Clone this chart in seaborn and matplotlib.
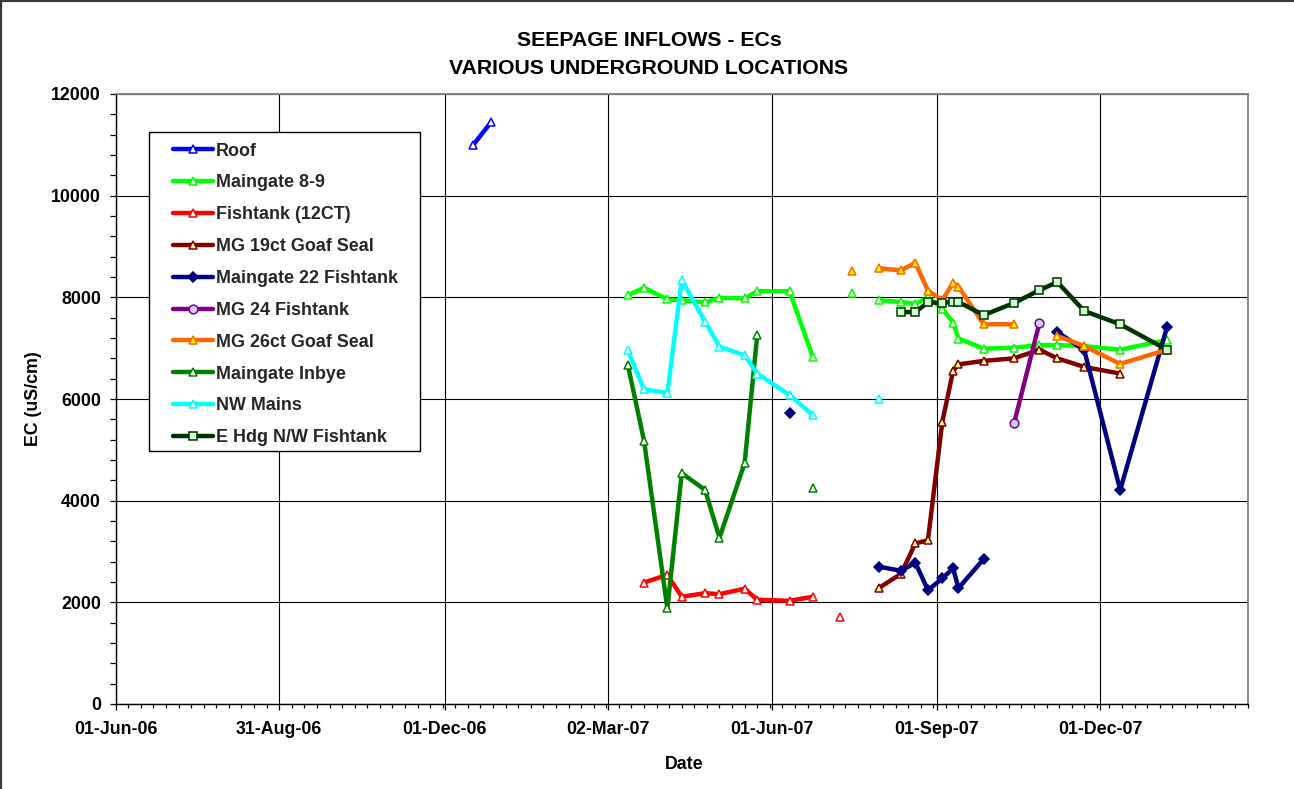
import numpy as np
import pandas as pd
import matplotlib
matplotlib.use("Agg")
import matplotlib.pyplot as plt
import matplotlib.dates as mdates
from matplotlib.lines import Line2D
from matplotlib.patches import Rectangle
import seaborn as sns

# EC readings (uS/cm) per location; a None entry ends one connected run of readings
ROOF_DATES = ["2006-12-17", "2006-12-27"]
ROOF_EC = [11000, 11450]

MG89_DATES = ["2007-03-13", "2007-03-22", "2007-04-04", "2007-04-12", "2007-04-25",
              "2007-05-03", "2007-05-17", "2007-05-24", "2007-06-11", "2007-06-24",
              None, "2007-07-16", None,
              "2007-07-31", "2007-08-12", "2007-08-20", "2007-08-27", "2007-09-04",
              "2007-09-10", "2007-09-13", "2007-09-27", "2007-10-14", "2007-10-28",
              "2007-11-07", "2007-11-22", "2007-12-12", "2008-01-07"]
MG89_EC = [8040, 8190, 7960, 7940, 7900, 7990, 7980, 8120, 8120, 6820,
           None, 8090, None,
           7940, 7910, 7870, 8000, 7780, 7500, 7190, 6990, 7010, 7060,
           7060, 7040, 6970, 7160]

FT12_DATES = ["2007-03-22", "2007-04-04", "2007-04-12", "2007-04-25", "2007-05-03",
              "2007-05-17", "2007-05-24", "2007-06-11", "2007-06-24", None, "2007-07-09"]
FT12_EC = [2390, 2540, 2110, 2180, 2160, 2270, 2050, 2030, 2110, None, 1720]

MG19_DATES = ["2007-07-31", "2007-08-12", "2007-08-20", "2007-08-27", "2007-09-04",
              "2007-09-10", "2007-09-13", "2007-09-27", "2007-10-14", "2007-10-28",
              "2007-11-07", "2007-11-22", "2007-12-12"]
MG19_EC = [2290, 2560, 3160, 3220, 5550, 6550, 6680, 6750, 6800, 6970, 6800, 6630, 6500]

MG22_DATES = ["2007-06-11", None,
              "2007-07-31", "2007-08-12", "2007-08-20", "2007-08-27", "2007-09-04",
              "2007-09-10", "2007-09-13", "2007-09-27", None,
              "2007-11-07", "2007-11-22", "2007-12-12", "2008-01-07"]
MG22_EC = [5720, None, 2700, 2620, 2780, 2240, 2470, 2670, 2280, 2850, None,
           7320, 6960, 4210, 7410]

MG24_DATES = ["2007-10-14", "2007-10-28"]
MG24_EC = [5530, 7490]

MG26_DATES = ["2007-07-16", None,
              "2007-07-31", "2007-08-12", "2007-08-20", "2007-08-27", "2007-09-04",
              "2007-09-10", "2007-09-13", "2007-09-27", "2007-10-14", None,
              "2007-11-07", "2007-11-22", "2007-12-12", "2008-01-07"]
MG26_EC = [8520, None, 8570, 8530, 8680, 8130, 7950, 8280, 8210, 7470, 7470, None,
           7240, 7040, 6690, 6970]

INBYE_DATES = ["2007-03-13", "2007-03-22", "2007-04-04", "2007-04-12", "2007-04-25",
               "2007-05-03", "2007-05-17", "2007-05-24", None, "2007-06-24"]
INBYE_EC = [6670, 5180, 1880, 4540, 4210, 3270, 4740, 7260, None, 4240]

NWM_DATES = ["2007-03-13", "2007-03-22", "2007-04-04", "2007-04-12", "2007-04-25",
             "2007-05-03", "2007-05-17", "2007-05-24", "2007-06-11", "2007-06-24",
             None, "2007-07-31"]
NWM_EC = [6960, 6190, 6120, 8340, 7520, 7030, 6860, 6500, 6080, 5680, None, 6000]

EHDG_DATES = ["2007-08-12", "2007-08-20", "2007-08-27", "2007-09-04", "2007-09-10",
              "2007-09-13", "2007-09-27", "2007-10-14", "2007-10-28", "2007-11-07",
              "2007-11-22", "2007-12-12", "2008-01-07"]
EHDG_EC = [7710, 7710, 7900, 7890, 7910, 7910, 7650, 7890, 8140, 8300, 7730, 7470, 6970]

LABELS = ["Roof", "Maingate 8-9", "Fishtank (12CT)", "MG 19ct Goaf Seal",
          "Maingate 22 Fishtank", "MG 24 Fishtank", "MG 26ct Goaf Seal",
          "Maingate Inbye", "NW Mains", "E Hdg N/W Fishtank"]
SERIES = [(ROOF_DATES, ROOF_EC), (MG89_DATES, MG89_EC), (FT12_DATES, FT12_EC),
          (MG19_DATES, MG19_EC), (MG22_DATES, MG22_EC), (MG24_DATES, MG24_EC),
          (MG26_DATES, MG26_EC), (INBYE_DATES, INBYE_EC), (NWM_DATES, NWM_EC),
          (EHDG_DATES, EHDG_EC)]

TICK_DATES = ["2006-06-01", "2006-08-31", "2006-12-01", "2007-03-02",
              "2007-06-01", "2007-09-01", "2007-12-01"]
X_START, X_END = "2006-06-01", "2008-02-21"

# line colour, marker, marker face, marker size
STYLES = [
    ("#0000FF", "^", "white", 6.0),
    ("#00FF00", "^", "white", 6.0),
    ("#FF0000", "^", "white", 6.0),
    ("#800000", "^", "#FFFF99", 6.0),
    ("#000080", "D", "#000080", 5.3),
    ("#800080", "o", "#CCCCFF", 6.3),
    ("#FF6600", "^", "#FFFF00", 6.0),
    ("#008000", "^", "white", 6.0),
    ("#00FFFF", "^", "white", 6.0),
    ("#003300", "s", "#CCFFCC", 6.0),
]
LW = 3.2

sns.set_theme(style="white")
plt.rcParams["font.family"] = ["Liberation Sans", "DejaVu Sans"]
plt.rcParams["font.weight"] = "bold"

W, H = 1294, 789
fig = plt.figure(figsize=(W / 100, H / 100), dpi=100)
fig.patch.set_facecolor("white")
left, right, top, bottom = 115.7, 1247.8, 94.0, 704.0
ax = fig.add_axes([left / W, 1 - bottom / H, (right - left) / W, (bottom - top) / H])
ax.set_facecolor("white")


def to_frame(dates, values):
    run, rows = 0, []
    for d, v in zip(dates, values):
        if d is None:
            run += 1
            continue
        rows.append((pd.Timestamp(d), v, run))
    return pd.DataFrame(rows, columns=["date", "ec", "run"])


handles = []
for i, ((dates, values), (col, mk, mfc, ms)) in enumerate(zip(SERIES, STYLES)):
    df = to_frame(dates, values)
    sns.lineplot(data=df, x="date", y="ec", units="run", estimator=None, sort=False,
                 color=col, lw=LW, marker=mk, markersize=ms, markerfacecolor=mfc,
                 markeredgecolor=col, markeredgewidth=1.1, ax=ax, legend=False,
                 zorder=3 + i * 0.1)
    handles.append(Line2D([], [], color=col, lw=LW, marker=mk, markersize=ms,
                          markerfacecolor=mfc, markeredgecolor=col, markeredgewidth=1.1))

# axes
ax.set_xlim(mdates.date2num(pd.Timestamp(X_START)), mdates.date2num(pd.Timestamp(X_END)))
ax.set_ylim(0, 12000)
major = [mdates.date2num(pd.Timestamp(d)) for d in TICK_DATES]
ax.set_xticks(major)
ax.set_xticklabels([pd.Timestamp(d).strftime("%d-%b-%y") for d in TICK_DATES])
ax.set_xticks([mdates.date2num(d) for d in pd.date_range(X_START, X_END, freq="7D")],
              minor=True)
ax.set_yticks(np.arange(0, 12001, 2000))
ax.set_yticks(np.arange(0, 12001, 400), minor=True)
ax.set_xlabel("")
ax.set_ylabel("")

ax.tick_params(axis="both", which="both", direction="out", color="black", width=0.9,
               labelsize=12.8, labelcolor="black", bottom=True, left=True)
ax.tick_params(axis="x", which="major", length=4.3, pad=7.9)
ax.tick_params(axis="x", which="minor", length=2.9)
ax.tick_params(axis="y", which="both", length=4.3, pad=6.2)
for lab in ax.get_xticklabels() + ax.get_yticklabels():
    lab.set_fontweight("bold")

ax.grid(True, which="major", color="black", lw=0.8)
ax.set_axisbelow(True)
for side in ("left", "bottom"):
    ax.spines[side].set_color("black")
    ax.spines[side].set_linewidth(1.0)
for side in ("top", "right"):
    ax.spines[side].set_color("#808080")
    ax.spines[side].set_linewidth(1.3)

# titles and axis captions
fig.text(649 / W, 1 - 45.5 / H, "SEEPAGE INFLOWS - ECs", ha="center", va="baseline",
         fontsize=15.3, fontweight="bold", color="black")
fig.text(649 / W, 1 - 73.5 / H, "VARIOUS UNDERGROUND LOCATIONS", ha="center",
         va="baseline", fontsize=15.3, fontweight="bold", color="black")
fig.text(684 / W, 1 - 769 / H, "Date", ha="center", va="baseline", fontsize=12.8,
         fontweight="bold", color="black")
fig.text(34 / W, 1 - 399 / H, "EC (uS/cm)", ha="center", va="center", rotation=90,
         fontsize=12.8, fontweight="bold", color="black")

# legend box
box = Rectangle((148.5 / W, 1 - 451 / H), (420 - 148.5) / W, (451 - 132.3) / H,
                transform=fig.transFigure, facecolor="white", edgecolor="black",
                lw=1.0, zorder=2)
fig.add_artist(box)
leg = fig.legend(handles, LABELS, loc="upper left",
                 bbox_to_anchor=(172.7 / W, 1 - 142.5 / H),
                 frameon=False, borderpad=0, borderaxespad=0,
                 handlelength=2.23, handletextpad=0.18, labelspacing=0.83,
                 prop={"size": 12.9, "weight": "bold"}, numpoints=1)
leg.set_zorder(3)

# outer chart border
fig.add_artist(Line2D([0.5 / W, 0.5 / W], [0, 1], transform=fig.transFigure,
                      color="#3a3a3a", lw=1.6))
fig.add_artist(Line2D([0, 1], [1 - 0.5 / H, 1 - 0.5 / H], transform=fig.transFigure,
                      color="#3a3a3a", lw=1.6))

fig.savefig("out.png", dpi=100, facecolor="white")
